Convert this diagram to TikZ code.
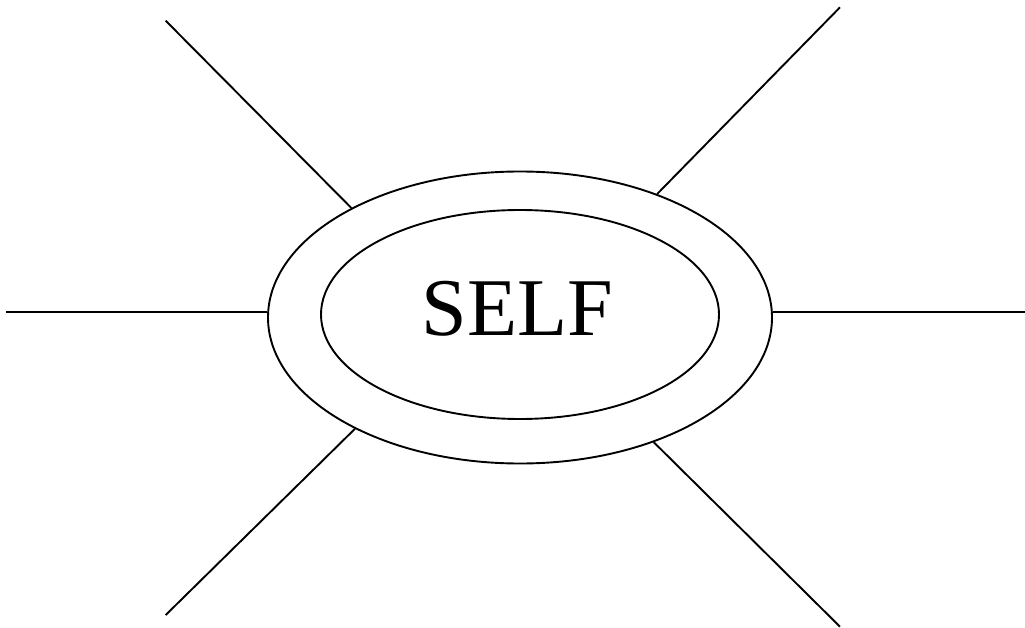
\documentclass[tikz,border=0pt]{standalone}
\usepackage{fontspec}
\setmainfont{Liberation Serif}
\usepackage{tikz}
\usetikzlibrary{shapes.geometric}

\begin{document}
\begin{tikzpicture}[
  x=1pt, y=-1pt,
  ring/.style={draw, ellipse, line width=1.9pt, inner sep=0pt},
  ray/.style={line width=1.9pt}
]
  \useasboundingbox (0,0) rectangle (1025,628);

  \node[ring, minimum width=504pt, minimum height=292pt] (outer) at (520,317.5) {};
  \node[ring, minimum width=398pt, minimum height=209pt] (inner) at (520,314.5) {};
  \node[font=\fontsize{82}{90}\selectfont, inner sep=0pt] (self) at (517.3,309) {SELF};

  \coordinate (wEnd) at (6,312.3);
  \coordinate (eEnd) at (1025,312.3);
  \coordinate (nwEnd) at (165.7,20.7);
  \coordinate (neEnd) at (840,7.3);
  \coordinate (swEnd) at (165.7,615);
  \coordinate (seEnd) at (840,626.7);

  \draw[ray] (wEnd) -- (wEnd -| outer.west);
  \draw[ray] (eEnd) -- (eEnd -| outer.east);
  \draw[ray] (nwEnd) -- (outer.147);
  \draw[ray] (neEnd) -- (outer.42.5);
  \draw[ray] (swEnd) -- (outer.214);
  \draw[ray] (seEnd) -- (outer.317);
\end{tikzpicture}
\end{document}
